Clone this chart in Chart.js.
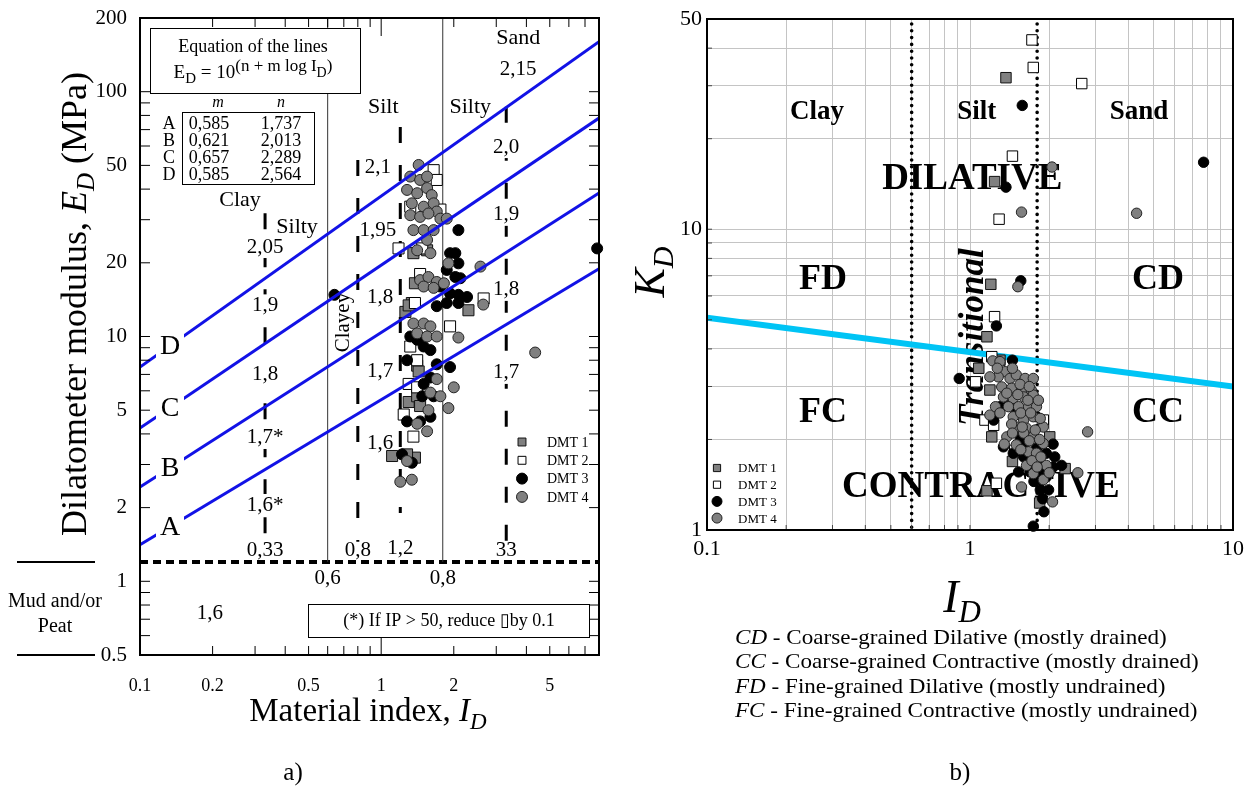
<!DOCTYPE html>
<html>
<head>
<meta charset="utf-8">
<script src="https://cdn.jsdelivr.net/npm/chart.js@4.4.1/dist/chart.umd.min.js"></script>
<style>
  html, body { margin: 0; padding: 0; background: #fff; }
  #wrap { position: relative; width: 1253px; height: 787px; }
  #left { position: absolute; left: 0; top: 0; }
  #right { position: absolute; left: 620px; top: 0; }
</style>
</head>
<body>
<div id="wrap">
  <canvas id="left" width="620" height="787"></canvas>
  <canvas id="right" width="633" height="787"></canvas>
</div>
<script>
// ======================
// a) E_D vs I_D DATA
// ======================
const edTicks = [0.5, 1, 2, 5, 10, 20, 50, 100, 200];
const idTicksA = [0.1, 0.2, 0.5, 1, 2, 5];
const idRangeA = [0.1, 8];
const edRange = [0.5, 200];

// lines A-D, E_D read at both ends of the I_D range
const lineNames = ["A", "B", "C", "D"];
const lineStartED = [1.41, 2.43, 4.23, 7.5];
const lineEndED = [18.9, 38.6, 78, 160];
const coefM = ["0,585", "0,621", "0,657", "0,585"];
const coefN = ["1,737", "2,013", "2,289", "2,564"];

const mudLimitED = 1.2;
const solidDividers = [0.6, 1.8];
const dashedID = [0.33, 0.8, 1.2, 3.3];
const dashedTopED = [31.9, 52.6, 71.8, 86.7];
const dashedBottomED = [1.45, 1.45, 1.9, 1.45];

// text labels: [text, I_D, E_D]
const zoneTextA = [
  ["Sand", 3.7, 166], ["Silt", 1.02, 86.6], ["Silty", 2.34, 86.2],
  ["Clay", 0.26, 36.1], ["Silty", 0.448, 28]
];
const gammaLabels = [
  ["2,15", 3.7, 123], ["2,0", 3.3, 59.4], ["1,9", 3.3, 31.4], ["1,8", 3.3, 15.5], ["1,7", 3.3, 7.1],
  ["2,1", 0.97, 49.2], ["1,95", 0.97, 27.2], ["1,8", 0.99, 14.4], ["1,7", 0.99, 7.2], ["1,6", 0.99, 3.67],
  ["2,05", 0.33, 23.2], ["1,9", 0.33, 13.4], ["1,8", 0.33, 7.0], ["1,7*", 0.33, 3.85], ["1,6*", 0.33, 2.05],
  ["1,6", 0.195, 0.74]
];
const boundaryLabels = [
  ["0,33", 0.33, 1.34], ["0,8", 0.8, 1.34], ["1,2", 1.2, 1.36], ["33", 3.3, 1.34],
  ["0,6", 0.6, 1.03], ["0,8", 1.8, 1.03]
];

const dmt1A = [[1.36,21.9],[1.55,22.5],[1.38,16.5],[1.26,12.6],[1.34,13.7],[1.30,13.4],[2.30,12.8],[1.41,7.6],
  [1.43,7.2],[1.30,5.4],[1.41,5.7],[1.45,5.2],[1.38,3.2],[1.11,3.25],[1.28,3.3]];
const dmt2A = [[1.65,47.8],[1.70,43.6],[1.32,33.9],[1.76,33.0],[1.18,22.9],[1.48,22.9],[1.45,18.0],[1.38,13.7],
  [1.93,11.0],[1.32,9.1],[1.41,8.0],[1.30,6.4],[1.41,6.2],[1.24,4.8],[1.36,3.9],[2.66,14.3]];
const dmt3A = [[2.09,27.2],[1.93,21.9],[2.03,21.9],[2.09,19.9],[1.87,18.7],[2.03,17.5],[2.13,17.3],[1.76,16.0],
  [1.93,15.0],[2.09,14.8],[2.27,14.5],[2.09,13.7],[1.70,13.3],[1.87,13.7],[1.41,9.7],[1.60,8.8],[1.70,7.7],
  [1.32,10.0],[1.28,8.0],[1.50,9.1],[1.60,6.8],[1.93,7.5],[1.50,6.4],[1.48,5.7],[1.65,5.7],[1.28,4.5],
  [1.45,4.5],[1.60,4.7],[1.22,3.3],[1.34,3.05],[7.86,22.9],[0.64,14.8]];
const dmt4A = [[1.43,50.2],[1.32,45.0],[1.45,43.6],[1.55,45.0],[1.28,39.7],[1.41,38.5],[1.55,40.4],[1.62,37.8],
  [1.34,35.0],[1.50,33.9],[1.65,35.0],[1.70,32.4],[1.32,31.3],[1.45,30.8],[1.57,31.8],[1.76,30.3],[1.87,30.3],
  [1.36,27.2],[1.50,27.2],[1.65,27.2],[1.55,24.8],[1.41,22.5],[1.60,21.9],[1.90,19.9],[2.58,19.3],[1.45,17.0],
  [1.57,17.5],[1.70,16.7],[1.50,16.0],[1.65,15.8],[1.82,16.5],[1.36,11.3],[1.50,11.3],[1.60,11.0],[1.41,10.3],
  [1.55,10.0],[1.70,10.0],[2.09,9.9],[1.70,6.7],[2.0,6.2],[1.60,5.9],[1.76,5.7],[1.90,5.1],[1.57,5.0],
  [1.41,4.4],[1.55,4.1],[1.28,3.1],[1.20,2.55],[1.34,2.6],[4.35,8.6],[2.65,13.5]];

// ======================
// b) K_D vs I_D DATA
// ======================
const kdTicks = [1, 10, 50];
const idTicksB = [0.1, 1, 10];
const kdRange = [1, 50];
const idRangeB = [0.1, 10];
const dividersB = [0.6, 1.8];
const cyanID = [0.1, 10];
const cyanKD = [5.08, 3.0];

const zoneTextB = [["Clay", 0.262, 24.5], ["Silt", 1.06, 24.5], ["Sand", 4.39, 24.5]];
const classTextB = [["FD", 0.276, 6.78], ["CD", 5.19, 6.78], ["FC", 0.276, 2.45], ["CC", 5.19, 2.45]];
const bigTextB = [["DILATIVE", 1.02, 14.6], ["CONTRACTIVE", 1.10, 1.38]];
const transitionalAt = [1.035, 4.38];

const dmt1B = [[1.16,4.39],[1.08,3.45],[1.19,2.92],[1.21,2.04],[1.45,1.69],[1.16,1.35],[1.84,1.23],[2.30,1.60],
  [1.30,3.67],[2.01,2.04],[1.37,31.9],[1.24,14.4],[1.20,6.56]];
const dmt2B = [[1.24,5.12],[1.05,3.11],[1.21,3.77],[1.14,2.32],[1.48,1.84],[1.26,1.43],[1.90,2.32],[1.23,2.23],
  [1.72,42.6],[1.74,34.5],[2.66,30.5],[1.45,17.5],[1.29,10.8]];
const dmt3B = [[0.91,3.19],[1.26,4.77],[1.45,3.67],[2.07,1.93],[2.23,1.64],[1.89,1.27],[1.91,1.15],[1.74,1.03],
  [1.55,2.04],[1.46,1.80],[1.60,1.75],[1.79,1.87],[1.95,1.80],[1.53,1.56],[1.69,1.56],[1.85,1.47],[2.07,1.62],
  [1.85,1.36],[1.99,1.36],[1.30,2.57],[1.23,2.32],[1.34,1.89],[1.79,2.38],[1.62,1.95],[1.70,1.65],[1.88,1.62],
  [1.75,1.45],[1.95,1.50],[2.10,1.75],[1.40,2.60],[1.50,2.45],
  [1.58,25.8],[7.73,16.7],[1.37,13.8],[1.56,6.74]];
const dmt4B = [[1.22,3.65],[1.36,3.36],[1.28,3.23],[1.42,3.19],[1.50,3.28],[1.62,3.19],[1.74,3.19],[1.32,2.99],
  [1.44,2.96],[1.57,2.92],[1.71,2.92],[1.34,2.77],[1.46,2.74],[1.60,2.77],[1.74,2.81],[1.40,2.57],[1.53,2.57],
  [1.67,2.57],[1.79,2.57],[1.19,2.41],[1.46,2.38],[1.60,2.32],[1.74,2.38],[1.50,2.20],[1.64,2.18],[1.90,2.20],
  [1.38,2.04],[1.60,2.10],[1.74,2.04],[1.35,1.93],[1.90,1.94],[1.50,1.92],[1.67,1.82],[1.79,1.80],[1.64,1.64],
  [1.95,1.64],[1.74,1.54],[2.57,1.55],[1.90,1.47],[1.57,1.39],[2.06,1.24],[2.80,2.12],[1.19,3.23],[1.30,3.63],
  [1.25,2.57],[1.27,3.45],[1.45,3.45],[1.55,3.05],[1.68,3.00],[1.38,2.85],[1.52,2.82],[1.66,2.70],[1.82,2.70],
  [1.30,2.45],[1.56,2.45],[1.70,2.45],[1.85,2.35],[1.44,2.25],[1.58,2.20],[1.77,2.15],[1.45,2.10],[1.68,1.98],
  [1.84,2.00],[1.56,1.85],[1.72,1.70],[1.86,1.75],[1.80,1.62],[2.00,1.55],
  [2.05,16.1],[1.57,11.4],[4.3,11.3],[1.52,6.44]];

const seriesNames = ["DMT 1", "DMT 2", "DMT 3", "DMT 4"];

// ======================
// HELPERS
// ======================
const SERIF = '"Liberation Serif", "Times New Roman", "DejaVu Serif", serif';
const f = (size, style) => (style ? style + " " : "") + size + "px " + SERIF;
const GRAY = "#808080";
const markerStyles = [
  { pointStyle: "rect", backgroundColor: GRAY, borderColor: "#111" },
  { pointStyle: "rect", backgroundColor: "#fff", borderColor: "#000" },
  { pointStyle: "circle", backgroundColor: "#000", borderColor: "#000" },
  { pointStyle: "circle", backgroundColor: GRAY, borderColor: "#222" }
];
const toXY = arr => arr.map(p => ({ x: p[0], y: p[1] }));

function logSteps(min, max) {
  const out = [];
  for (let e = Math.floor(Math.log10(min)); e <= Math.ceil(Math.log10(max)); e++) {
    for (let k = 1; k < 10; k++) {
      const v = +(k * Math.pow(10, e)).toPrecision(3);
      if (v >= min - 1e-9 && v <= max + 1e-9) out.push(v);
    }
  }
  return out;
}

function drawRich(ctx, parts, x, y, align) {
  let w = 0;
  parts.forEach(p => { ctx.font = p.f; w += ctx.measureText(p.t).width; });
  let cx = align === "center" ? x - w / 2 : (align === "right" ? x - w : x);
  ctx.textAlign = "left";
  ctx.textBaseline = "alphabetic";
  parts.forEach(p => {
    ctx.font = p.f;
    ctx.fillText(p.t, cx, y + (p.dy || 0));
    cx += ctx.measureText(p.t).width;
  });
}

function label(ctx, t, px, py, font, bg) {
  ctx.font = font;
  ctx.textAlign = "center";
  ctx.textBaseline = "middle";
  if (bg) {
    const w = ctx.measureText(t).width + 4;
    ctx.fillStyle = "#fff";
    ctx.fillRect(px - w / 2, py - 11, w, 22);
  }
  ctx.fillStyle = "#000";
  ctx.fillText(t, px, py);
}

function seg(ctx, x1, y1, x2, y2) {
  ctx.beginPath(); ctx.moveTo(x1, y1); ctx.lineTo(x2, y2); ctx.stroke();
}

function drawMarker(ctx, i, x, y, r) {
  const s = markerStyles[i];
  ctx.fillStyle = s.backgroundColor;
  ctx.strokeStyle = s.borderColor;
  ctx.lineWidth = 1;
  ctx.beginPath();
  if (s.pointStyle === "rect") ctx.rect(x - r * 0.72, y - r * 0.72, r * 1.44, r * 1.44);
  else ctx.arc(x, y, r, 0, Math.PI * 2);
  ctx.fill(); ctx.stroke();
}

// ======================
// LEFT CHART DECORATION
// ======================
const leftDecor = {
  id: "leftDecor",
  beforeDatasetsDraw(chart) {
    const { ctx, chartArea: a, scales: { x, y } } = chart;
    ctx.save();
    // mud / peat limit
    const ym = y.getPixelForValue(mudLimitED);
    ctx.strokeStyle = "#000";
    ctx.lineWidth = 4;
    ctx.setLineDash([8, 5]);
    seg(ctx, a.left, ym, a.right, ym);
    // thin solid dividers
    ctx.setLineDash([]);
    ctx.lineWidth = 1;
    ctx.strokeStyle = "#333";
    solidDividers.forEach(v => {
      const px = x.getPixelForValue(v);
      seg(ctx, px, ym, px, a.top);
    });
    // dashed dividers
    ctx.strokeStyle = "#000";
    ctx.lineWidth = 3;
    ctx.setLineDash([16, 22]);
    dashedID.forEach((v, i) => {
      const px = x.getPixelForValue(v);
      seg(ctx, px, y.getPixelForValue(dashedTopED[i]), px, y.getPixelForValue(dashedBottomED[i]));
    });
    ctx.setLineDash([]);
    // texts
    zoneTextA.forEach(t => label(ctx, t[0], x.getPixelForValue(t[1]), y.getPixelForValue(t[2]), f(22)));
    gammaLabels.forEach(t => label(ctx, t[0], x.getPixelForValue(t[1]), y.getPixelForValue(t[2]), f(21),
      dashedID.includes(t[1])));
    boundaryLabels.forEach(t => label(ctx, t[0], x.getPixelForValue(t[1]), y.getPixelForValue(t[2]), f(21)));
    // Clayey (rotated)
    ctx.save();
    ctx.translate(x.getPixelForValue(0.695), y.getPixelForValue(11.4));
    ctx.rotate(-Math.PI / 2);
    label(ctx, "Clayey", 0, 0, f(21));
    ctx.restore();
    ctx.restore();
  },
  afterDatasetsDraw(chart) {
    const { ctx, chartArea: a, scales: { x, y } } = chart;
    ctx.save();
    // line letters with a gap in the line
    lineNames.forEach((n, i) => {
      const px = a.left + 30;
      const t = (Math.log10(x.getValueForPixel(px)) - Math.log10(idRangeA[0])) /
        (Math.log10(idRangeA[1]) - Math.log10(idRangeA[0]));
      const v = Math.pow(10, Math.log10(lineStartED[i]) + t * (Math.log10(lineEndED[i]) - Math.log10(lineStartED[i])));
      const py = y.getPixelForValue(v);
      ctx.fillStyle = "#fff";
      ctx.fillRect(a.left + 16, py - 15, 28, 30);
      label(ctx, n, px, py + 1, f(28));
    });
    // equation box
    ctx.fillStyle = "#fff";
    ctx.strokeStyle = "#000";
    ctx.lineWidth = 1;
    ctx.fillRect(a.left + 10, a.top + 10, 210, 65);
    ctx.strokeRect(a.left + 10.5, a.top + 10.5, 210, 65);
    ctx.fillStyle = "#000";
    drawRich(ctx, [{ t: "Equation of the lines", f: f(18) }], a.left + 113, a.top + 34, "center");
    drawRich(ctx, [
      { t: "E", f: f(19) }, { t: "D", f: f(15), dy: 5 }, { t: " = 10", f: f(19) },
      { t: "(n + m log I", f: f(17), dy: -7 }, { t: "D", f: f(14), dy: -1 }, { t: ")", f: f(17), dy: -7 }
    ], a.left + 113, a.top + 60, "center");
    // coefficient table
    ctx.strokeRect(a.left + 42.5, a.top + 94.5, 132, 72);
    label(ctx, "m", a.left + 78, a.top + 85, f(16, "italic"));
    label(ctx, "n", a.left + 141, a.top + 85, f(16, "italic"));
    lineNames.forEach((n, i) => {
      const py = a.top + 106 + i * 17;
      label(ctx, n, a.left + 29, py, f(18));
      label(ctx, coefM[i], a.left + 69, py, f(18));
      label(ctx, coefN[i], a.left + 141, py, f(18));
    });
    // footnote box
    ctx.fillStyle = "#fff";
    ctx.fillRect(a.left + 168, a.bottom - 51, 281, 33);
    ctx.strokeRect(a.left + 168.5, a.bottom - 50.5, 281, 33);
    label(ctx, "(*) If IP > 50, reduce \u25AFby 0.1", a.left + 309, a.bottom - 34, f(18));
    // legend
    seriesNames.forEach((s, i) => {
      const py = a.bottom - 213 + i * 18.3;
      drawMarker(ctx, i, a.right - 77, py, 5.5);
      ctx.fillStyle = "#000";
      ctx.font = f(14);
      ctx.textAlign = "left";
      ctx.textBaseline = "middle";
      ctx.fillText(s, a.right - 52, py + 1);
    });
    // inward ticks on all sides
    ctx.strokeStyle = "#000";
    ctx.lineWidth = 1;
    logSteps(idRangeA[0], idRangeA[1]).forEach(v => {
      const px = x.getPixelForValue(v);
      const len = v === 1 ? 18 : 9;
      seg(ctx, px, a.bottom, px, a.bottom - len);
      seg(ctx, px, a.top, px, a.top + len);
    });
    logSteps(edRange[0], edRange[1]).forEach(v => {
      const py = y.getPixelForValue(v);
      seg(ctx, a.left, py, a.left + 10, py);
      seg(ctx, a.right, py, a.right - 10, py);
    });
    // frame
    ctx.lineWidth = 2;
    ctx.strokeRect(a.left, a.top, a.right - a.left, a.bottom - a.top);
    ctx.restore();
  },
  afterDraw(chart) {
    const { ctx, chartArea: a, scales: { y } } = chart;
    ctx.save();
    ctx.fillStyle = "#000";
    ctx.strokeStyle = "#000";
    // mud and/or peat side note
    ctx.lineWidth = 2;
    const ym = y.getPixelForValue(mudLimitED);
    seg(ctx, 17, ym, 95, ym);
    seg(ctx, 17, a.bottom, 95, a.bottom);
    label(ctx, "Mud and/or", 55, 602, f(20));
    label(ctx, "Peat", 55, 627, f(20));
    // y title (rotated)
    ctx.save();
    ctx.translate(86, 304);
    ctx.rotate(-Math.PI / 2);
    drawRich(ctx, [
      { t: "Dilatometer modulus, ", f: f(36) }, { t: "E", f: f(36, "italic") },
      { t: "D", f: f(25, "italic"), dy: 8 }, { t: " (MPa)", f: f(36) }
    ], 0, 0, "center");
    ctx.restore();
    // x title
    drawRich(ctx, [
      { t: "Material index, ", f: f(33) }, { t: "I", f: f(33, "italic") }, { t: "D", f: f(23, "italic"), dy: 8 }
    ], 368, 721, "center");
    label(ctx, "a)", 293, 773, f(25));
    ctx.restore();
  }
};

// ======================
// RIGHT CHART DECORATION
// ======================
const rightDecor = {
  id: "rightDecor",
  beforeDatasetsDraw(chart) {
    const { ctx, chartArea: a, scales: { x, y } } = chart;
    ctx.save();
    // dotted dividers
    ctx.strokeStyle = "#000";
    ctx.lineWidth = 3.6;
    ctx.lineCap = "round";
    ctx.setLineDash([0, 6.8]);
    dividersB.forEach(v => {
      const px = x.getPixelForValue(v);
      seg(ctx, px, a.top + 5, px, a.bottom);
    });
    ctx.setLineDash([]);
    ctx.lineCap = "butt";
    zoneTextB.forEach(t => label(ctx, t[0], x.getPixelForValue(t[1]), y.getPixelForValue(t[2]), f(27, "bold")));
    classTextB.forEach(t => label(ctx, t[0], x.getPixelForValue(t[1]), y.getPixelForValue(t[2]), f(36, "bold")));
    bigTextB.forEach(t => label(ctx, t[0], x.getPixelForValue(t[1]), y.getPixelForValue(t[2]), f(37, "bold")));
    ctx.save();
    ctx.translate(x.getPixelForValue(transitionalAt[0]), y.getPixelForValue(transitionalAt[1]));
    ctx.rotate(-Math.PI / 2);
    label(ctx, "Transitional", 0, 0, f(35, "italic bold"));
    ctx.restore();
    ctx.restore();
  },
  afterDatasetsDraw(chart) {
    const { ctx, chartArea: a, scales: { x, y } } = chart;
    ctx.save();
    seriesNames.forEach((s, i) => {
      const py = a.bottom - 62 + i * 16.7;
      drawMarker(ctx, i, a.left + 10, py, 5);
      ctx.fillStyle = "#000";
      ctx.font = f(13);
      ctx.textAlign = "left";
      ctx.textBaseline = "middle";
      ctx.fillText(s, a.left + 31, py + 1);
    });
    ctx.strokeStyle = "#444";
    ctx.lineWidth = 1;
    logSteps(idRangeB[0], idRangeB[1]).forEach(v => {
      const px = x.getPixelForValue(v);
      seg(ctx, px, a.bottom, px, a.bottom - 5);
    });
    logSteps(kdRange[0], kdRange[1]).forEach(v => {
      const py = y.getPixelForValue(v);
      seg(ctx, a.left, py, a.left + 5, py);
    });
    ctx.strokeStyle = "#000";
    ctx.lineWidth = 2;
    ctx.strokeRect(a.left, a.top, a.right - a.left, a.bottom - a.top);
    ctx.restore();
  },
  afterDraw(chart) {
    const { ctx } = chart;
    ctx.save();
    ctx.fillStyle = "#000";
    ctx.save();
    ctx.translate(44, 272);
    ctx.rotate(-Math.PI / 2);
    drawRich(ctx, [{ t: "K", f: f(44, "italic") }, { t: "D", f: f(30, "italic"), dy: 9 }], 0, 0, "center");
    ctx.restore();
    drawRich(ctx, [{ t: "I", f: f(46, "italic") }, { t: "D", f: f(31, "italic"), dy: 10 }], 342, 612, "center");
    const notes = [
      ["CD", " - Coarse-grained Dilative (mostly drained)"],
      ["CC", " - Coarse-grained Contractive (mostly drained)"],
      ["FD", " - Fine-grained Dilative (mostly undrained)"],
      ["FC", " - Fine-grained Contractive (mostly undrained)"]
    ];
    notes.forEach((n, i) => {
      ctx.save();
      ctx.translate(115, 644 + i * 24.3);
      ctx.scale(1.1, 1);
      drawRich(ctx, [{ t: n[0], f: f(21, "italic") }, { t: n[1], f: f(21) }], 0, 0, "left");
      ctx.restore();
    });
    label(ctx, "b)", 340, 773, f(25));
    ctx.restore();
  }
};

// ======================
// BUILD CHARTS
// ======================
function pointSets(lists, r) {
  return lists.map((l, i) => Object.assign({
    label: seriesNames[i],
    data: toXY(l),
    pointRadius: markerStyles[i].pointStyle === "rect" ? r * 1.42 : r,
    borderWidth: 1,
    order: 4 - i,
    clip: false
  }, markerStyles[i]));
}

function logAxis(range, ticks, allTicks, width, isX, size, pad, grid) {
  const ax = {
    type: "logarithmic",
    min: range[0],
    max: range[1],
    grid: grid || { display: false },
    border: { display: false },
    afterBuildTicks: s => { s.ticks = allTicks.map(v => ({ value: v })); },
    ticks: {
      font: { family: SERIF, size: size },
      color: "#000",
      padding: pad,
      autoSkip: false,
      maxRotation: 0,
      callback: v => ticks.includes(v) ? String(v) : ""
    }
  };
  if (isX) ax.afterFit = s => { s.height = width; };
  else ax.afterFit = s => { s.width = width; };
  return ax;
}

const blueLines = lineNames.map((n, i) => ({
  label: n,
  data: [{ x: idRangeA[0], y: lineStartED[i] }, { x: idRangeA[1], y: lineEndED[i] }],
  showLine: true,
  borderColor: "#1212e6",
  borderWidth: 3,
  pointRadius: 0,
  order: 0
}));

new Chart(document.getElementById("left"), {
  type: "scatter",
  data: { datasets: pointSets([dmt1A, dmt2A, dmt3A, dmt4A], 5.5).concat(blueLines) },
  options: {
    responsive: false,
    animation: false,
    devicePixelRatio: 1,
    layout: { padding: { top: 18, right: 21, left: 0, bottom: 0 } },
    plugins: { legend: { display: false }, tooltip: { enabled: false } },
    scales: {
      x: logAxis(idRangeA, idTicksA, idTicksA, 132, true, 18, 12),
      y: logAxis(edRange, edTicks, edTicks, 140, false, 21, 5)
    }
  },
  plugins: [leftDecor]
});

new Chart(document.getElementById("right"), {
  type: "scatter",
  data: {
    datasets: pointSets([dmt1B, dmt2B, dmt3B, dmt4B], 5.2).concat([{
      label: "boundary",
      data: [{ x: cyanID[0], y: cyanKD[0] }, { x: cyanID[1], y: cyanKD[1] }],
      showLine: true,
      borderColor: "#00c4f5",
      borderWidth: 6,
      pointRadius: 0,
      order: 10
    }])
  },
  options: {
    responsive: false,
    animation: false,
    devicePixelRatio: 1,
    layout: { padding: { top: 19, right: 20, left: 0, bottom: 0 } },
    plugins: { legend: { display: false }, tooltip: { enabled: false } },
    scales: {
      x: logAxis(idRangeB, idTicksB, logSteps(idRangeB[0], idRangeB[1]), 257, true, 22, 6,
        { color: "#c4c4c4", lineWidth: 1, drawTicks: false }),
      y: logAxis(kdRange, kdTicks, logSteps(kdRange[0], kdRange[1]), 87, false, 22, 5,
        { color: "#c4c4c4", lineWidth: 1, drawTicks: false })
    }
  },
  plugins: [rightDecor]
});
</script>
</body>
</html>
